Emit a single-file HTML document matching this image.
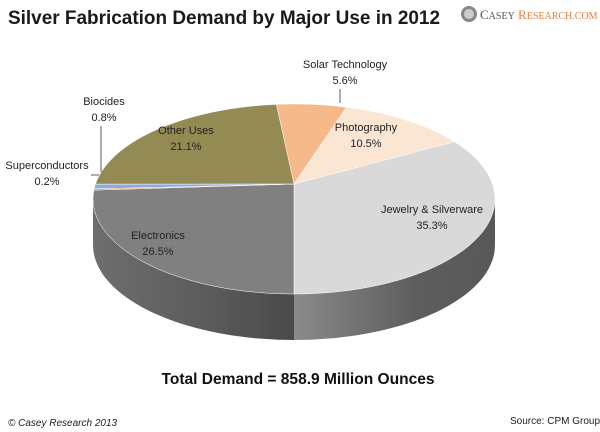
<!DOCTYPE html>
<html><head><meta charset="utf-8">
<style>
body{margin:0;background:#fff;}
#wrap{position:relative;width:600px;height:432px;overflow:hidden;font-family:"Liberation Sans",sans-serif;}
</style></head>
<body>
<div id="wrap">
<svg id="svg" width="600" height="432" xmlns="http://www.w3.org/2000/svg">
  <defs>
    <linearGradient id="gL" x1="93" x2="294" y1="0" y2="0" gradientUnits="userSpaceOnUse">
      <stop offset="0" stop-color="#6e6e6e"/><stop offset="0.5" stop-color="#5e5e5e"/><stop offset="1" stop-color="#4a4a4a"/>
    </linearGradient>
    <linearGradient id="gR" x1="294" x2="495" y1="0" y2="0" gradientUnits="userSpaceOnUse">
      <stop offset="0" stop-color="#8a8a8a"/><stop offset="0.6" stop-color="#5e5e5e"/><stop offset="1" stop-color="#585858"/>
    </linearGradient>
  </defs>
  <text x="8" y="24" font-size="19" font-weight="bold" fill="#1a1a1a" textLength="432" lengthAdjust="spacingAndGlyphs">Silver Fabrication Demand by Major Use in 2012</text>
  <g>
    <circle cx="469" cy="14" r="8" fill="#888"/>
    <circle cx="469" cy="14" r="5" fill="#ccc"/>
    <text x="480" y="19" font-family="Liberation Serif,serif" font-size="13" fill="#555">C<tspan font-size="10">ASEY</tspan> <tspan fill="#f07a3a">R</tspan><tspan fill="#f07a3a" font-size="10">ESEARCH.COM</tspan></text>
  </g>
  <g id="sides"></g>
  <g id="tops"></g>
  <g id="labels" font-size="11" fill="#222" text-anchor="middle"></g>
  <text x="298" y="384" font-size="16" font-weight="bold" text-anchor="middle" fill="#111" textLength="273" lengthAdjust="spacingAndGlyphs">Total Demand = 858.9 Million Ounces</text>
  <text x="8" y="426" font-size="10" font-style="italic" fill="#222">© Casey Research 2013</text>
  <text x="510" y="424" font-size="10" fill="#222">Source: CPM Group</text>
</svg>
</div>
<script>
const categories = ["Solar Technology","Photography","Jewelry & Silverware","Electronics","Superconductors","Biocides","Other Uses"];
const values = [5.6, 10.5, 35.3, 26.5, 0.2, 0.8, 21.1];
const valueLabels = ["5.6%","10.5%","35.3%","26.5%","0.2%","0.8%","21.1%"];
const topColors = ["#f6b98a","#fbe5d3","#d9d9d9","#808080","#e07b39","#8eaadb","#948a54"];
const sideColors = ["#c98f63","#cdb8a6","url(#gR)","url(#gL)","#b05a25","#6a86b5","#6f6840"];

const NS="http://www.w3.org/2000/svg";
const cx=294, cy=199, rx=201, ry=95, depth=46, ax=294, ay=184;
const total=values.reduce((a,b)=>a+b,0);
const t0=Math.PI-2*Math.PI*(values[0]+values[1]+values[2])/total;
function pt(t){return [cx+rx*Math.sin(t), cy-ry*Math.cos(t)];}
const sides=document.getElementById('sides'), tops=document.getElementById('tops'), labels=document.getElementById('labels');
let cum=0;
const labelPos=[[345,68],[366,131],[432,213],[158,239],[47,169],[104,105],[186,134]];
values.forEach((v,i)=>{
  const a1=t0+2*Math.PI*cum/total; cum+=v;
  const a2=t0+2*Math.PI*cum/total;
  const s1=Math.max(a1,Math.PI/2), s2=Math.min(a2,3*Math.PI/2);
  if(s2>s1){
    let d='';const N=40;
    for(let k=0;k<=N;k++){const p=pt(s1+(s2-s1)*k/N);d+=(k?'L':'M')+p[0].toFixed(1)+','+p[1].toFixed(1);}
    for(let k=N;k>=0;k--){const p=pt(s1+(s2-s1)*k/N);d+='L'+p[0].toFixed(1)+','+(p[1]+depth).toFixed(1);}
    const side=document.createElementNS(NS,'path');
    side.setAttribute('d',d+'Z');side.setAttribute('fill',sideColors[i]);
    
    
    sides.appendChild(side);
  }
  let d='M'+ax+','+ay;const N=40;
  for(let k=0;k<=N;k++){const p=pt(a1+(a2-a1)*k/N);d+='L'+p[0].toFixed(1)+','+p[1].toFixed(1);}
  const slice=document.createElementNS(NS,'path');
  slice.setAttribute('d',d+'Z');slice.setAttribute('fill',topColors[i]);
  slice.setAttribute('stroke','#fff');slice.setAttribute('stroke-width','0.5');
  
  
  tops.appendChild(slice);
  const lp=labelPos[i];
  const t=document.createElementNS(NS,'text');
  t.setAttribute('x',lp[0]);t.setAttribute('y',lp[1]);
  
  
  const ts1=document.createElementNS(NS,'tspan');ts1.setAttribute('x',lp[0]);ts1.textContent=categories[i];
  const ts2=document.createElementNS(NS,'tspan');ts2.setAttribute('x',lp[0]);ts2.setAttribute('dy','16');ts2.textContent=valueLabels[i];
  t.appendChild(ts1);t.appendChild(ts2);labels.appendChild(t);
});
[[340,89,340,103],[101,126,101,172],[91,175,99,175]].forEach(l=>{
  const ln=document.createElementNS(NS,'line');
  ln.setAttribute('x1',l[0]);ln.setAttribute('y1',l[1]);ln.setAttribute('x2',l[2]);ln.setAttribute('y2',l[3]);
  ln.setAttribute('stroke','#333');ln.setAttribute('stroke-width','0.8');
  
  
  labels.appendChild(ln);
});
</script>
</body></html>
